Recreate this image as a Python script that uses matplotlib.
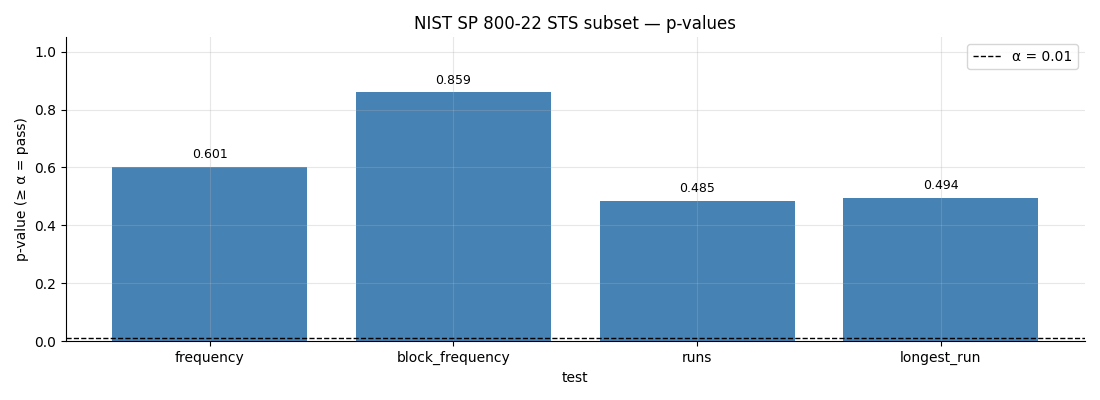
import numpy as np
from matplotlib import pyplot as plt

tests = ["frequency", "block_frequency", "runs", "longest_run"]
pvalues = [0.601, 0.859, 0.485, 0.494]
alpha = 0.01

fig, ax = plt.subplots(figsize=(11, 4), dpi=100)
x = np.arange(len(tests))
bars = ax.bar(x, pvalues, color="steelblue", width=0.8)
ax.axhline(alpha, color="black", linestyle="--", linewidth=1, label="α = 0.01")

for xi, v in zip(x, pvalues):
    ax.text(xi, v + 0.02, f"{v:.3f}", ha="center", va="bottom", fontsize=9)

ax.set_xticks(x)
ax.set_xticklabels(tests)
ax.set_ylim(0, 1.05)
ax.set_xlabel("test")
ax.set_ylabel("p-value (≥ α = pass)")
ax.set_title("NIST SP 800-22 STS subset — p-values")
ax.grid(True, alpha=0.3)
ax.spines["top"].set_visible(False)
ax.spines["right"].set_visible(False)
ax.legend(loc="upper right")

plt.subplots_adjust(left=0.06, right=0.986, top=0.907, bottom=0.147)
plt.savefig("out.png")
